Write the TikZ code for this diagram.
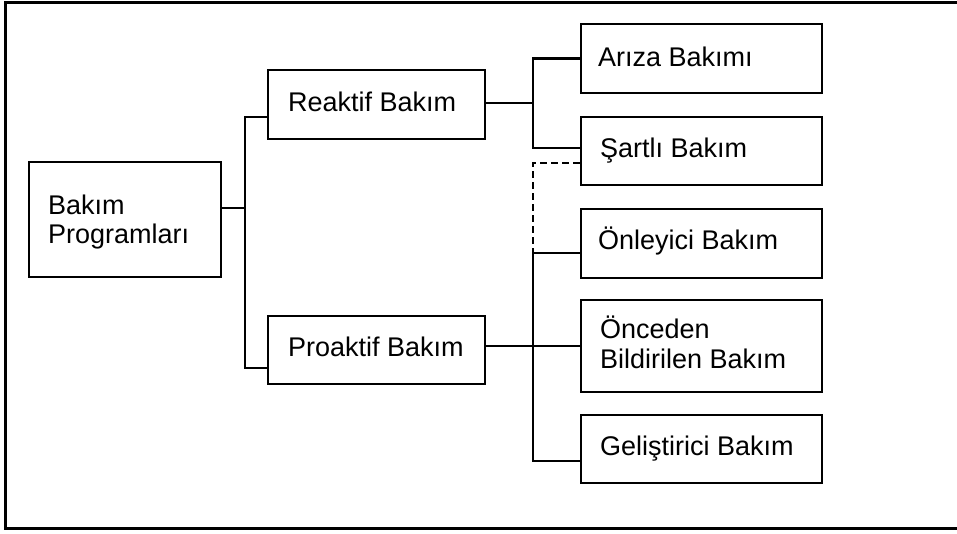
\documentclass[tikz,border=0pt]{standalone}
\usepackage{fontspec}
\setmainfont{Liberation Sans}
\begin{document}
\begin{tikzpicture}[x=1pt,y=-1pt,
  box/.style={draw=black,line width=2.2pt,inner sep=0pt,rectangle},
  lbl/.style={anchor=base west,inner sep=0pt,font=\fontsize{27}{29}\selectfont},
  conn/.style={draw=black,line width=2.2pt},
  dconn/.style={draw=black,line width=2.2pt,dash pattern=on 7pt off 4pt}]
\useasboundingbox (0,0) rectangle (957,533);
% outer frame (right edge outside the picture)
\draw[line width=3pt] (960,2) -- (5,2) -- (5,528) -- (960,528);
% boxes
\node[box,minimum width=192pt,minimum height=115pt] (bp) at (125,219.5) {};
\node[box,minimum width=217pt,minimum height=69pt] (re) at (376.5,104.5) {};
\node[box,minimum width=217pt,minimum height=68pt] (pro) at (376.5,350) {};
\node[box,minimum width=241pt,minimum height=69pt] (ar) at (701.5,58.5) {};
\node[box,minimum width=241pt,minimum height=68pt] (sa) at (701.5,151) {};
\node[box,minimum width=241pt,minimum height=69pt] (on) at (701.5,243.5) {};
\node[box,minimum width=241pt,minimum height=92pt] (onc) at (701.5,346) {};
\node[box,minimum width=241pt,minimum height=68pt] (gel) at (701.5,449) {};
% labels
\node[lbl] (bpa) at ([xshift=20pt,yshift=5.5pt]bp.west) {Bakım};
\node[lbl] (bpb) at ([xshift=20pt,yshift=-23.5pt]bp.west) {Programları};
\node[lbl] (rel) at ([xshift=21pt,yshift=-7pt]re.west) {Reaktif Bakım};
\node[lbl] (prol) at ([xshift=21pt,yshift=-6pt]pro.west) {Proaktif Bakım};
\node[lbl] (arl) at ([xshift=18pt,yshift=-8pt]ar.west) {Arıza Bakımı};
\node[lbl] (sal) at ([xshift=20pt,yshift=-6pt]sa.west) {Şartlı Bakım};
\node[lbl] (onl) at ([xshift=18pt,yshift=-6pt]on.west) {Önleyici Bakım};
\node[lbl] (onca) at ([xshift=20pt,yshift=8pt]onc.west) {Önceden};
\node[lbl] (oncb) at ([xshift=20pt,yshift=-22pt]onc.west) {Bildirilen Bakım};
\node[lbl] (gell) at ([xshift=20pt,yshift=-6pt]gel.west) {Geliştirici Bakım};
% junctions
\coordinate (jl) at (245,208);
\coordinate (ju) at (533,103);
\coordinate (jp) at (533,346);
\coordinate (jd) at (533,253);
% connectors left
\draw[conn] ([yshift=11.5pt]bp.east) -- (jl);
\draw[conn] ([yshift=-12.5pt]re.west) -| (jl) |- ([yshift=-18pt]pro.west);
% connectors upper right
\draw[conn] ([yshift=1.5pt]re.east) -- (ju);
\draw[conn] (ar.west) -| (ju) |- ([yshift=3pt]sa.west);
% dashed
\draw[dconn] ([yshift=-12pt]sa.west) -| (jd);
% connectors lower right
\draw[conn] ([yshift=4pt]pro.east) -- (onc.west);
\draw[conn] ([yshift=-9.5pt]on.west) -| (jp) |- ([yshift=-12pt]gel.west);
\end{tikzpicture}
\end{document}
